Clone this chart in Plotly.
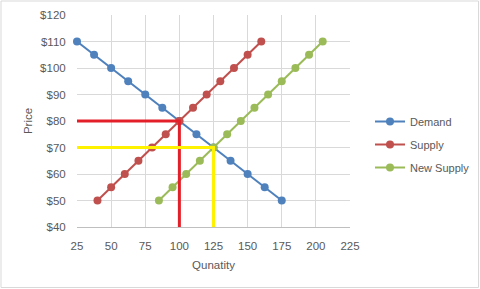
import plotly.graph_objects as go

demand_q = [25, 37.5, 50, 62.5, 75, 87.5, 100, 112.5, 125, 137.5, 150, 162.5, 175]
demand_p = [110, 105, 100, 95, 90, 85, 80, 75, 70, 65, 60, 55, 50]
supply_q = [40, 50, 60, 70, 80, 90, 100, 110, 120, 130, 140, 150, 160]
supply_p = [50, 55, 60, 65, 70, 75, 80, 85, 90, 95, 100, 105, 110]
new_supply_q = [85, 95, 105, 115, 125, 135, 145, 155, 165, 175, 185, 195, 205]
new_supply_p = [50, 55, 60, 65, 70, 75, 80, 85, 90, 95, 100, 105, 110]

eq1_q = [25, 100, 100]
eq1_p = [80, 80, 40]
eq2_q = [25, 125, 125]
eq2_p = [70, 70, 40]

x_ticks = [25, 50, 75, 100, 125, 150, 175, 200, 225]
y_ticks = [40, 50, 60, 70, 80, 90, 100, 110, 120]
y_labels = ["$" + str(v) for v in y_ticks]

font = dict(family="Liberation Sans, Arial, sans-serif", size=11.5, color="#595959")

fig = go.Figure()
for name, q, p, c in [("Demand", demand_q, demand_p, "#4F81BD"),
                      ("Supply", supply_q, supply_p, "#C0504D"),
                      ("New Supply", new_supply_q, new_supply_p, "#9BBB59")]:
    fig.add_trace(go.Scatter(x=q, y=p, name=name, mode="lines+markers",
                             legendgroup=name, cliponaxis=False,
                             line=dict(color=c, width=2),
                             marker=dict(color=c, size=8)))
fig.add_trace(go.Scatter(x=eq1_q, y=eq1_p, mode="lines", showlegend=False,
                         line=dict(color="#E3202A", width=3), hoverinfo="skip"))
fig.add_trace(go.Scatter(x=eq2_q, y=eq2_p, mode="lines", showlegend=False,
                         line=dict(color="#FFF200", width=3), hoverinfo="skip"))

L, R, T, B = 77, 130, 15, 62
W, H = 480, 289
pw, ph = W - L - R, H - T - B

fig.update_layout(
    width=W, height=H,
    margin=dict(l=L, r=R, t=T, b=B, autoexpand=False),
    paper_bgcolor="white", plot_bgcolor="white",
    font=font,
    xaxis=dict(range=[25, 225], tickvals=x_ticks, showgrid=True, gridcolor="#D9D9D9",
               gridwidth=1, zeroline=False, showline=True, linecolor="#BFBFBF",
               title=dict(text="Qunatity", font=font, standoff=10),
               ticks="outside", ticklen=8, tickcolor="rgba(0,0,0,0)", automargin=False),
    yaxis=dict(range=[40, 120], tickvals=y_ticks, ticktext=y_labels, showgrid=True,
               gridcolor="#D9D9D9", gridwidth=1, zeroline=False, showline=False,
               title=dict(text="Price", font=font, standoff=5),
               ticks="outside", ticklen=8, tickcolor="rgba(0,0,0,0)", automargin=False),
    legend=dict(xref="container", yref="container", x=370 / W, y=1 - 107 / H,
                xanchor="left", yanchor="top",
                font=dict(family=font["family"], size=11, color="#595959"),
                tracegroupgap=4, itemwidth=30, bgcolor="rgba(0,0,0,0)"),
    showlegend=True,
)
fig.add_shape(type="rect", xref="paper", yref="paper",
              x0=(1 - L) / pw, x1=(W - 1.5 - L) / pw,
              y0=1 - (H - 1.5 - T) / ph, y1=1 - (1 - T) / ph,
              line=dict(color="#D9D9D9", width=1), layer="below")
fig.write_html("out.html")
